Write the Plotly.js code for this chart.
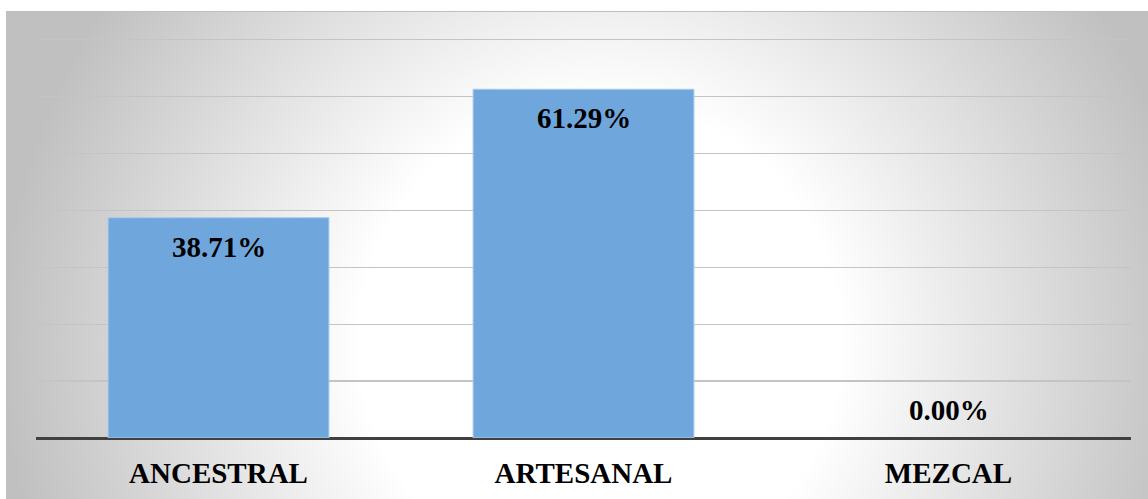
<!DOCTYPE html>
<html>
<head>
<meta charset="utf-8">
<script src="https://cdn.plot.ly/plotly-3.0.1.min.js"></script>
<style>
  html, body { margin: 0; padding: 0; background: #ffffff; }
  #wrap { position: relative; width: 1148px; height: 499px; overflow: hidden; }
  #frame {
    position: absolute; left: 6px; top: 11px; width: 1142px; height: 488px;
    border-top: 1px solid #bdbdbd; box-sizing: border-box;
    background: radial-gradient(circle 600px at 594px 330px, #ffffff 0%, #ffffff 40%, #c0c0c0 100%);
  }
  #chart { position: absolute; left: 0; top: 0; width: 1148px; height: 499px; }
</style>
</head>
<body>
<div id="wrap">
  <div id="frame"></div>
  <div id="chart"></div>
</div>
<script>
const categories = ["ANCESTRAL", "ARTESANAL", "MEZCAL"];
const values = [38.71, 61.29, 0.00];
const labels = values.map(v => v.toFixed(2) + "%");

const serif = "Liberation Serif";

const trace = {
  type: "bar",
  x: categories,
  y: values,
  marker: {
    color: "#6fa7dc",
    line: { color: "#a8caea", width: values.map(v => v > 0 ? 1 : 0) }
  },
  hoverinfo: "none"
};

const annotations = categories.map((c, i) => ({
  x: c,
  y: values[i],
  xref: "x",
  yref: "y",
  text: labels[i],
  showarrow: false,
  yanchor: "middle",
  yshift: values[i] > 0 ? -29 : 28,
  font: { family: serif, size: 29, color: "#000000", weight: "bold" }
}));

const layout = {
  width: 1148,
  height: 499,
  margin: { l: 36, r: 17, t: 34, b: 61 },
  paper_bgcolor: "rgba(0,0,0,0)",
  plot_bgcolor: "rgba(0,0,0,0)",
  bargap: 0.395,
  showlegend: false,
  font: { family: serif },
  xaxis: {
    type: "category",
    showgrid: false,
    showline: false,
    zeroline: false,
    ticks: "",
    ticklabelstandoff: 15,
    tickfont: { family: serif, size: 29, color: "#000000", weight: "bold" }
  },
  yaxis: {
    range: [0, 71],
    tickvals: [0, 10, 20, 30, 40, 50, 60, 70],
    showticklabels: false,
    ticks: "",
    showgrid: true,
    gridcolor: "#c4c4c4",
    gridwidth: 1.3,
    zeroline: true,
    zerolinecolor: "#404040",
    zerolinewidth: 3,
    showline: false,
    fixedrange: true
  },
  annotations: annotations
};

Plotly.newPlot("chart", [trace], layout, { displayModeBar: false, staticPlot: true });
</script>
</body>
</html>
